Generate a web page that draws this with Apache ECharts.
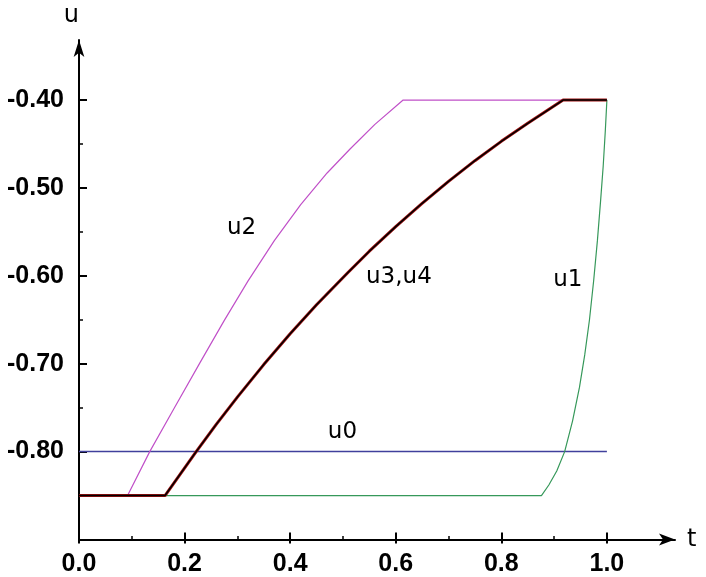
<!DOCTYPE html>
<html><head><meta charset="utf-8">
<script src="https://cdn.jsdelivr.net/npm/echarts@6/dist/echarts.min.js"></script>
<style>html,body{margin:0;padding:0;background:#fff}#c{width:706px;height:577px}</style>
</head><body><div id="c"></div>
<script>
// ---- data ----
const u0T = [0, 1.0];
const u0U = [-0.80, -0.80];
const u1T = [0, 0.876, 0.890, 0.905, 0.920, 0.935, 0.948, 0.958, 0.967, 0.975, 0.982, 0.988, 0.993, 0.997, 1.0];
const u1U = [-0.85, -0.85, -0.838, -0.822, -0.80, -0.765, -0.727, -0.690, -0.650, -0.605, -0.560, -0.515, -0.475, -0.435, -0.40];
const u2T = [0, 0.092, 0.134, 0.180, 0.229, 0.275, 0.320, 0.370, 0.420, 0.470, 0.513, 0.560, 0.614, 1.0];
const u2U = [-0.85, -0.85, -0.80, -0.751, -0.699, -0.651, -0.606, -0.560, -0.519, -0.483, -0.456, -0.428, -0.40, -0.40];
const u34T = [0, 0.163, 0.222, 0.26, 0.30, 0.35, 0.40, 0.45, 0.51, 0.55, 0.60, 0.65, 0.70, 0.75, 0.80, 0.85, 0.917, 1.0];
const u34U = [-0.85, -0.85, -0.80, -0.769, -0.738, -0.701, -0.666, -0.633, -0.596, -0.572, -0.544, -0.5175, -0.4925, -0.469, -0.447, -0.4265, -0.40, -0.40];

const labelText = ['u2', 'u3,u4', 'u1', 'u0'];
const labelT = [0.308, 0.606, 0.926, 0.499];
const labelU = [-0.546, -0.601, -0.605, -0.778];

const xTickLabels = [0, 0.2, 0.4, 0.6, 0.8, 1.0];
const xMinorTicks = [0.1, 0.3, 0.5, 0.7, 0.9];
const yTickLabels = [-0.8, -0.7, -0.6, -0.5, -0.4];
const yMinorTicks = [-0.85, -0.75, -0.65, -0.55, -0.45];

const zip = (a, b) => a.map((v, i) => [v, b[i]]);

const X_MIN = 0, X_MAX = 1.129, Y_MIN = -0.9, Y_MAX = -0.3317;
const labelFont = { fontFamily: 'Liberation Sans', fontWeight: 'bold', fontSize: 25, color: '#000' };
const nameFont = { fontFamily: 'DejaVu Sans', fontSize: 24, color: '#000' };
const blk = { color: '#000', width: 2 };

const chart = echarts.init(document.getElementById('c'), null, { renderer: 'canvas' });
chart.setOption({
  animation: false,
  backgroundColor: '#fff',
  grid: { left: 79, right: 31, top: 40, bottom: 37.5, containLabel: false, outerBoundsMode: 'none' },
  xAxis: [
    {
      type: 'value', min: X_MIN, max: X_MAX, position: 'bottom',
      axisLine: { show: true, lineStyle: blk, symbol: ['none', 'arrow'], symbolSize: [9, 16] },
      axisTick: { show: true, inside: true, length: 7, lineStyle: blk, customValues: xTickLabels },
      axisLabel: Object.assign({ customValues: xTickLabels, margin: 12, formatter: v => v.toFixed(1) }, labelFont),
      splitLine: { show: false },
      name: 't', nameLocation: 'end', nameGap: 12, nameTextStyle: nameFont
    },
    {
      type: 'value', min: X_MIN, max: X_MAX, position: 'bottom',
      axisLine: { show: false },
      axisTick: { show: true, inside: false, length: 4, lineStyle: blk, customValues: xTickLabels },
      axisLabel: { show: false }, splitLine: { show: false }
    },
    {
      type: 'value', min: X_MIN, max: X_MAX, position: 'bottom',
      axisLine: { show: false },
      axisTick: { show: true, inside: true, length: 3.5, lineStyle: { color: '#000', width: 1.5 }, customValues: xMinorTicks },
      axisLabel: { show: false }, splitLine: { show: false }
    }
  ],
  yAxis: [
    {
      type: 'value', min: Y_MIN, max: Y_MAX, position: 'left',
      axisLine: { show: true, lineStyle: blk, symbol: ['none', 'arrow'], symbolSize: [8, 17] },
      axisTick: { show: true, inside: true, length: 8, lineStyle: blk, customValues: yTickLabels },
      axisLabel: Object.assign({ customValues: yTickLabels, margin: 15, formatter: v => v.toFixed(2) }, labelFont),
      splitLine: { show: false },
      name: 'u', nameLocation: 'end', nameGap: 12,
      nameTextStyle: Object.assign({ align: 'right' }, nameFont)
    },
    {
      type: 'value', min: Y_MIN, max: Y_MAX, position: 'left',
      axisLine: { show: false },
      axisTick: { show: true, inside: true, length: 4, lineStyle: { color: '#000', width: 1.5 }, customValues: yMinorTicks },
      axisLabel: { show: false }, splitLine: { show: false }
    }
  ],
  series: [
    { name: 'u0', type: 'line', data: zip(u0T, u0U), showSymbol: false, lineStyle: { color: '#40409c', width: 1.5 }, z: 3 },
    { name: 'u1', type: 'line', data: zip(u1T, u1U), showSymbol: false, lineStyle: { color: '#36985a', width: 1.2 }, z: 3 },
    { name: 'u2', type: 'line', data: zip(u2T, u2U), showSymbol: false, lineStyle: { color: '#c050c8', width: 1.2 }, z: 3 },
    { name: 'u3', type: 'line', data: zip(u34T, u34U), showSymbol: false, lineStyle: { color: '#a01010', width: 3 }, z: 4 },
    { name: 'u4', type: 'line', data: zip(u34T, u34U), showSymbol: false, lineStyle: { color: '#000', width: 1.5 }, z: 5 },
    {
      name: 'labels', type: 'scatter', symbolSize: 0, silent: true, z: 6,
      itemStyle: { color: '#000' },
      data: labelT.map((t, i) => ({ value: [t, labelU[i]], name: labelText[i] })),
      label: {
        show: true, position: [0, 0], align: 'center', verticalAlign: 'middle', formatter: '{b}',
        fontFamily: 'DejaVu Sans', fontSize: 23, color: '#000', textBorderWidth: 0, opacity: 1
      }
    }
  ]
});
</script>
</body></html>
